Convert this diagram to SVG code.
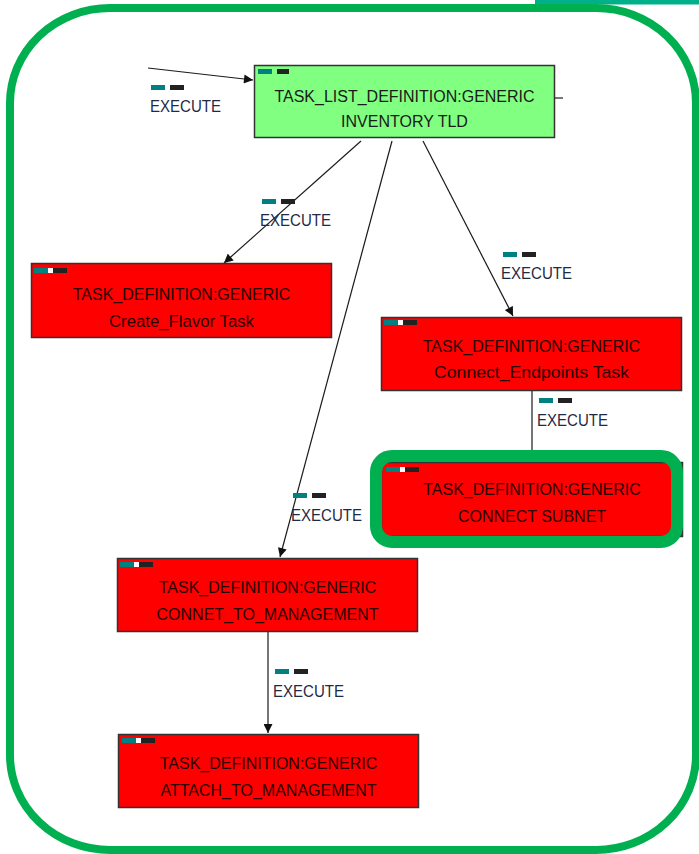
<svg xmlns="http://www.w3.org/2000/svg" width="699" height="854" viewBox="0 0 699 854">
  <style>
    .frame { fill: none; stroke: #00b050; stroke-width: 8; }
    .node { stroke: #333333; stroke-width: 1.5; }
    .tld { fill: #80ff80; }
    .task { fill: #ff0000; }
    .ntext { font-family: "Liberation Sans", Arial, sans-serif; font-size: 16px; text-anchor: middle; }
    .tld-text { fill: #1a1a1a; }
    .task-text { fill: #2a0000; }
    .edge { fill: none; stroke: #1a1a1a; stroke-width: 1.2; }
    .lbl { font-family: "Liberation Sans", Arial, sans-serif; font-size: 16px; fill: #1f2a44; }
    .teal { fill: #008080; }
    .dark { fill: #222222; }
    .gap { fill: #ffffff; }
    .sel { fill: none; stroke: #00b050; stroke-width: 12; }
  </style>
  <defs>
    <marker id="arrow" viewBox="0 0 10 10" refX="10" refY="5" markerWidth="10" markerHeight="9" markerUnits="userSpaceOnUse" orient="auto">
      <path d="M0,0 L10,5 L0,10 Z" fill="#111111"/>
    </marker>
    <!-- status flag pair shown in each node's top-left corner -->
    <g id="flags">
      <rect x="0" y="0" width="33" height="5" class="gap"/>
      <rect x="0" y="0" width="14" height="5" class="teal"/>
      <rect x="19" y="0" width="14" height="5" class="dark"/>
    </g>
  </defs>

  <!-- page background and frame -->
  <rect x="0" y="0" width="699" height="854" fill="#ffffff"/>
  <rect x="535" y="0" width="164" height="4.5" fill="#00b08a"/>
  <rect x="10" y="8" width="686" height="842" rx="100" ry="95" class="frame"/>

  <!-- connectors -->
  <g id="connectors">
    <path class="edge" d="M148,68 L253,80" marker-end="url(#arrow)"/>
    <path class="edge" d="M555,98 L563,98"/>
    <path class="edge" d="M361,141 L224,263" marker-end="url(#arrow)"/>
    <path class="edge" d="M392,141 L280,557" marker-end="url(#arrow)"/>
    <path class="edge" d="M423,141 L513,316" marker-end="url(#arrow)"/>
    <path class="edge" d="M532,391 L532,462"/>
    <path class="edge" d="M268,632 L268,733" marker-end="url(#arrow)"/>

    <g id="label-in">
      <use href="#flags" x="151" y="85"/>
      <text class="lbl" x="150" y="112" textLength="71" lengthAdjust="spacingAndGlyphs">EXECUTE</text>
    </g>
    <g id="label-flavor">
      <use href="#flags" x="262" y="199"/>
      <text class="lbl" x="260" y="226" textLength="71" lengthAdjust="spacingAndGlyphs">EXECUTE</text>
    </g>
    <g id="label-endpoints">
      <use href="#flags" x="503" y="252"/>
      <text class="lbl" x="501" y="279" textLength="71" lengthAdjust="spacingAndGlyphs">EXECUTE</text>
    </g>
    <g id="label-subnet">
      <use href="#flags" x="539" y="398"/>
      <text class="lbl" x="537" y="426" textLength="71" lengthAdjust="spacingAndGlyphs">EXECUTE</text>
    </g>
    <g id="label-mgmt">
      <use href="#flags" x="293" y="493"/>
      <text class="lbl" x="291" y="521" textLength="71" lengthAdjust="spacingAndGlyphs">EXECUTE</text>
    </g>
    <g id="label-attach">
      <use href="#flags" x="275" y="669"/>
      <text class="lbl" x="273" y="697" textLength="71" lengthAdjust="spacingAndGlyphs">EXECUTE</text>
    </g>
  </g>

  <!-- task list definition -->
  <g id="node-tld">
    <rect x="254.5" y="65.5" width="300" height="72" class="node tld"/>
    <rect x="258" y="69" width="14" height="5" class="teal"/>
    <rect x="277" y="69" width="12" height="5" class="dark"/>
    <text class="ntext tld-text" x="404.5" y="102">TASK_LIST_DEFINITION:GENERIC</text>
    <text class="ntext tld-text" x="404.5" y="127">INVENTORY TLD</text>
  </g>

  <g id="node-create-flavor">
    <rect x="31.5" y="263.5" width="300" height="74" class="node task"/>
    <use href="#flags" x="34" y="268"/>
    <text class="ntext task-text" x="181.5" y="300">TASK_DEFINITION:GENERIC</text>
    <text class="ntext task-text" x="181.5" y="327" textLength="145" lengthAdjust="spacingAndGlyphs">Create_Flavor Task</text>
  </g>

  <g id="node-connect-endpoints">
    <rect x="381.5" y="317.5" width="300" height="73" class="node task"/>
    <use href="#flags" x="384" y="320"/>
    <text class="ntext task-text" x="531.5" y="352">TASK_DEFINITION:GENERIC</text>
    <text class="ntext task-text" x="531.5" y="378" textLength="195" lengthAdjust="spacingAndGlyphs">Connect_Endpoints Task</text>
  </g>

  <g id="node-connect-subnet">
    <rect x="381.5" y="462.5" width="301" height="74" class="node task"/>
    <rect x="376" y="456" width="301" height="86" rx="16" ry="16" class="sel"/>
    <use href="#flags" x="386" y="467"/>
    <text class="ntext task-text" x="532" y="495">TASK_DEFINITION:GENERIC</text>
    <text class="ntext task-text" x="532" y="522">CONNECT SUBNET</text>
  </g>

  <g id="node-connet-management">
    <rect x="117.5" y="558.5" width="300" height="73" class="node task"/>
    <use href="#flags" x="120" y="562"/>
    <text class="ntext task-text" x="267.5" y="593">TASK_DEFINITION:GENERIC</text>
    <text class="ntext task-text" x="267.5" y="620">CONNET_TO_MANAGEMENT</text>
  </g>

  <g id="node-attach-management">
    <rect x="118.5" y="734.5" width="300" height="73" class="node task"/>
    <use href="#flags" x="122" y="738"/>
    <text class="ntext task-text" x="268.5" y="769">TASK_DEFINITION:GENERIC</text>
    <text class="ntext task-text" x="268.5" y="796">ATTACH_TO_MANAGEMENT</text>
  </g>
</svg>
